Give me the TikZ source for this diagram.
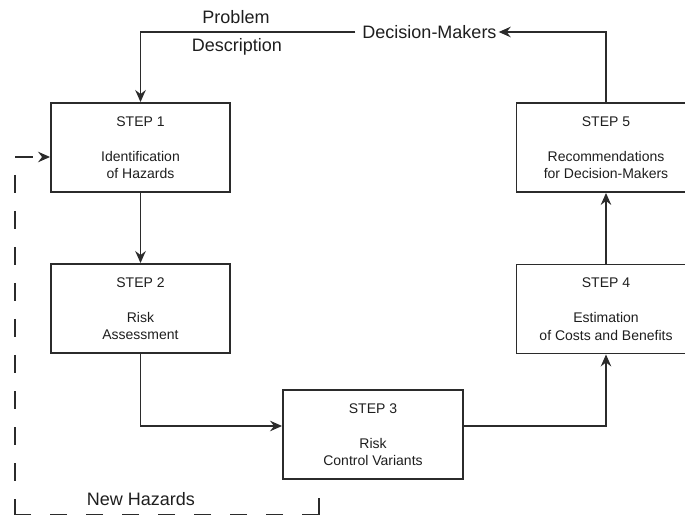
\documentclass[tikz,border=0pt]{standalone}
\usepackage{fontspec}
\setmainfont{Liberation Sans}
\usetikzlibrary{arrows.meta,calc}
\definecolor{ink}{HTML}{2B2B2B}
\definecolor{txt}{HTML}{1E1E1E}
\tikzset{
  stepbox/.style={draw=ink, line width=1.9pt, minimum width=179pt, minimum height=89pt,
    inner sep=0pt, align=center, text=txt, font=\fontsize{14}{17.5}\selectfont},
  lbl/.style={text=txt, font=\fontsize{18}{21}\selectfont, inner sep=2pt},
  tip/.style={-{Stealth[length=12pt,width=10.5pt,inset=4pt]}},
  conn/.style={draw=ink, line width=1.6pt, tip},
  fbline/.style={draw=ink, line width=1.6pt, dash pattern=on 18pt off 18pt},
}
\begin{document}
\begin{tikzpicture}[x=1pt,y=-1pt]
\useasboundingbox (0,0) rectangle (685,518);
\clip (0,0) rectangle (685,518);

% step boxes
\node[stepbox] (s1) at (140.5,147.5) {STEP 1\\[17.5pt]Identification\\of Hazards};
\node[stepbox] (s2) at (140.5,308.5) {STEP 2\\[17.5pt]Risk\\Assessment};
\node[stepbox, minimum width=180pt] (s3) at (373,434.5) {STEP 3\\[17.5pt]Risk\\Control Variants};
\node[stepbox] (s4) at (606,309) {STEP 4\\[17.5pt]Estimation\\of Costs and Benefits};
\node[stepbox] (s5) at (606,147.5) {STEP 5\\[17.5pt]Recommendations\\for Decision-Makers};

% labels
\node[lbl] (dm) at (429.5,32) {Decision-Makers};
\node[lbl, anchor=base] (prob) at (236,24) {Problem};
\node[lbl, anchor=base] (desc) at (237,52) {Description};
\node[lbl, anchor=base] (nh) at (141,505) {New Hazards};

% main flow
\draw[conn] (s5.north) |- (dm.east);
\draw[conn] ([xshift=-5pt]dm.west) -| (s1.north);
\draw[conn] (s1.south) -- (s2.north);
\draw[conn] (s2.south) |- ([yshift=8.5pt]s3.west);
\draw[conn] ([yshift=8.5pt]s3.east) -| (s4.south);
\draw[conn] (s4.north) -- (s5.south);

% new hazards feedback (dashed)
\coordinate (nhA) at (319,498);
\coordinate (nhB) at (319,514.5);
\coordinate (nhC) at (15,514.5);
\coordinate (nhD) at (15,157);
\draw[fbline] (nhA) -- (nhB);
\draw[fbline, dash pattern=on 17pt off 19pt] (nhB) -- (nhC);
\draw[fbline, dash phase=18pt] (nhD) -- (nhC);
\draw[fbline, tip] (nhD) -- ([yshift=-9.5pt]s1.west);
\end{tikzpicture}
\end{document}
